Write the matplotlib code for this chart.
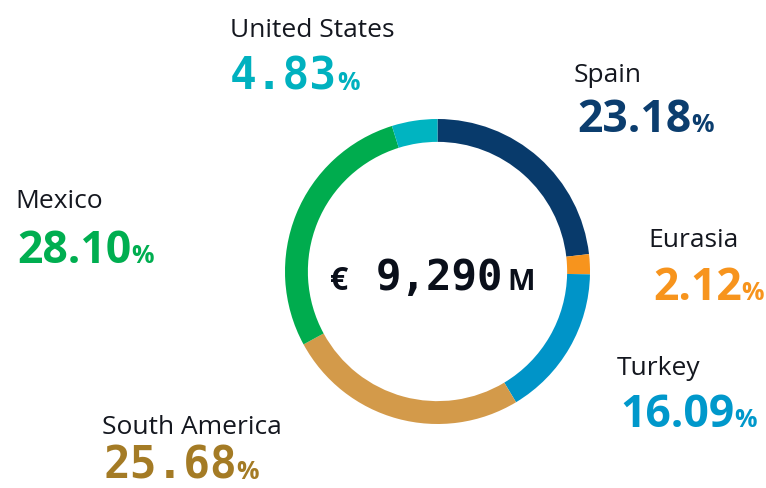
import matplotlib
matplotlib.use("Agg")
import matplotlib.pyplot as plt

regions = ["Spain", "Eurasia", "Turkey", "South America", "Mexico", "United States"]
shares = [23.18, 2.12, 16.09, 25.68, 28.10, 4.83]
ring_colors = ["#083a6b", "#f7941d", "#0094c8", "#d39a4a", "#00ac4e", "#00b4c1"]
text_colors = ["#0b3d6e", "#f7941d", "#0098cb", "#a47b25", "#00ae50", "#00b1bf"]
total_label = "9,290"

W, H = 766, 489
fig = plt.figure(figsize=(W / 100, H / 100), dpi=100)

# donut, centre at (437.5, 272.5) px from top-left, outer radius 152.5 px
cx, cy, r = 437.5, H - 272.5, 152.5
ax = fig.add_axes([(cx - r) / W, (cy - r) / H, 2 * r / W, 2 * r / H])
ax.pie(shares, colors=ring_colors, startangle=90, counterclock=False,
       radius=1, wedgeprops=dict(width=0.15, linewidth=0))
ax.set_xlim(-1, 1)
ax.set_ylim(-1, 1)
ax.set_aspect("equal")
ax.axis("off")

label_font = "Open Sans"
label_color = "#14171f"

# (label x, label baseline, number x, number baseline, mono digits?)
spots = {
    "Spain": (574, 82, 577, 132, False),
    "Eurasia": (648, 247, 653, 300, False),
    "Turkey": (617, 375, 620, 427, False),
    "South America": (102, 434, 103, 479, True),
    "Mexico": (15, 208, 17, 263, False),
    "United States": (230, 37, 230, 90, True),
}

def px(x, y):
    return x / W, 1 - y / H

numbers = []
for name, val, col in zip(regions, shares, text_colors):
    lx, ly, nx, ny, mono = spots[name]
    fig.text(*px(lx, ly), name, fontsize=19, family=label_font,
             color=label_color, va="baseline", ha="left")
    if mono:
        t = fig.text(*px(nx, ny), f"{val:.2f}", fontsize=32, weight="bold",
                     family="DejaVu Sans Mono", color=col, va="baseline")
    else:
        t = fig.text(*px(nx, ny), f"{val:.2f}", fontsize=32, weight="bold",
                     family=label_font, color=col, va="baseline")
    numbers.append((t, ny, col))

# centre total
fig.text(*px(330, 290), "€", fontsize=23, weight="bold", family=label_font,
         color="#0a0f1a", va="baseline")
tot = fig.text(*px(376, 290), total_label, fontsize=30.5, weight="bold",
               family="DejaVu Sans Mono", color="#0a0f1a", va="baseline")

fig.canvas.draw()
rend = fig.canvas.get_renderer()
for t, ny, col in numbers:
    bb = t.get_window_extent(rend)
    fig.text(bb.x1 / W, 1 - ny / H, "%", fontsize=18, weight="bold",
             family=label_font, color=col, va="baseline")
bb = tot.get_window_extent(rend)
fig.text((bb.x1 + 4) / W, 1 - 290 / H, "M", fontsize=21, weight="bold",
         family=label_font, color="#0a0f1a", va="baseline")

fig.savefig("out.png", dpi=100, facecolor="white")
